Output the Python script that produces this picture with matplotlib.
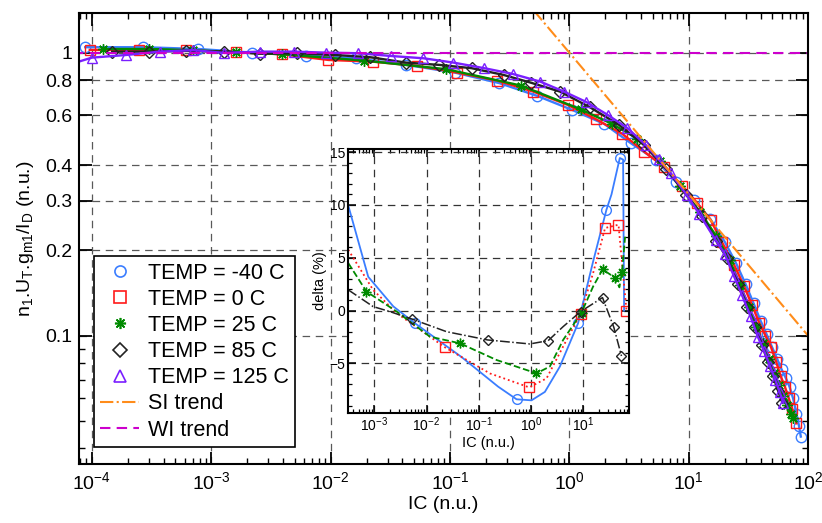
import numpy as np
import matplotlib.pyplot as plt
from matplotlib.lines import Line2D
from matplotlib.ticker import LogLocator, NullFormatter, MultipleLocator

plt.rcParams['font.family'] = ['Liberation Sans', 'DejaVu Sans']
plt.rcParams['mathtext.fontset'] = 'custom'
plt.rcParams['mathtext.rm'] = 'Liberation Sans'
plt.rcParams['mathtext.it'] = 'Liberation Sans:italic'
plt.rcParams['mathtext.default'] = 'regular'

# main plot data: normalised gm/ID vs inversion coefficient
ic_m40 = [8.8e-5, 2.7e-4, 7.8e-4, 2.2e-3, 6.2e-3, 0.0163, 0.043, 0.11, 0.26, 0.54, 1.06, 1.96, 3.27, 5.3, 7.8, 11.1, 15.2,
          20, 25, 30, 35, 40, 45, 50, 55, 60, 65, 70, 75, 80, 84, 87]
gm_m40 = [1.045, 1.045, 1.03, 1.0, 0.976, 0.955, 0.905, 0.85, 0.78, 0.703, 0.627, 0.56, 0.479, 0.418, 0.35, 0.302, 0.258,
          0.215, 0.180, 0.152, 0.130, 0.113, 0.101, 0.091, 0.083, 0.076, 0.071, 0.066, 0.060, 0.053, 0.048, 0.044]

ic_0 = [9.6e-5, 2.46e-4, 6.2e-4, 1.6e-3, 3.9e-3, 9.6e-3, 0.0225, 0.053, 0.115, 0.25, 0.50, 0.966, 1.67, 2.79, 4.23, 6.2, 8.85, 11.8, 15.3,
        19, 24, 29, 34, 39, 44, 49, 54, 59, 64, 69, 74, 80]
gm_0 = [1.022, 1.022, 1.02, 1.003, 0.987, 0.942, 0.929, 0.898, 0.85, 0.796, 0.728, 0.654, 0.582, 0.516, 0.447, 0.395, 0.338, 0.294, 0.256,
        0.214, 0.178, 0.150, 0.128, 0.111, 0.100, 0.091, 0.081, 0.072, 0.066, 0.060, 0.055, 0.049]

ic_25 = [1.24e-4, 3.0e-4, 7.1e-4, 1.6e-3, 3.9e-3, 0.0192, 0.093, 0.393, 1.25, 2.3, 3.7, 5.8, 8.5, 12.5, 17,
         22, 27, 32, 37, 42, 47, 52, 57, 62, 67, 72, 75]
gm_25 = [1.03, 1.03, 1.02, 1.003, 0.987, 0.937, 0.874, 0.765, 0.63, 0.559, 0.497, 0.415, 0.338, 0.273, 0.225,
         0.185, 0.151, 0.126, 0.107, 0.094, 0.083, 0.074, 0.067, 0.061, 0.057, 0.053, 0.051]

ic_85 = [1.48e-4, 3.0e-4, 6.2e-4, 1.28e-3, 2.57e-3, 5.2e-3, 0.0108, 0.0215, 0.0428, 0.081, 0.152, 0.281, 0.476, 0.838,
         1.5, 2.6, 4.2, 6.5, 9.5, 13, 17, 21, 26, 31, 36, 41, 46, 51, 56, 61]
gm_85 = [1.008, 1.008, 1.014, 1.008, 0.992, 0.995, 0.981, 0.963, 0.922, 0.905, 0.881, 0.834, 0.783, 0.728,
         0.64, 0.556, 0.473, 0.388, 0.315, 0.265, 0.216, 0.188, 0.152, 0.126, 0.107, 0.093, 0.081, 0.072, 0.064, 0.058]

ic_125 = [7.5e-5, 1.0e-4, 1.94e-4, 3.7e-4, 7.1e-4, 1.28e-3, 2.57e-3, 4.9e-3, 9.1e-3, 0.0171, 0.032, 0.06, 0.107, 0.194, 0.335,
          0.57, 0.904, 1.37, 2.09, 3.07, 4.37, 5.6, 7.07, 9.6, 12.2, 16.8, 20, 24, 28, 33, 38, 43, 48, 53, 58, 62]
gm_125 = [0.925, 0.96, 0.981, 1.008, 1.02, 0.998, 1.008, 1.008, 1.0, 0.995, 0.973, 0.955, 0.922, 0.881, 0.841,
          0.79, 0.728, 0.671, 0.603, 0.541, 0.472, 0.42, 0.375, 0.315, 0.27, 0.218, 0.195, 0.162, 0.139, 0.117, 0.099,
          0.088, 0.078, 0.070, 0.063, 0.058]

si_ic = [0.5, 100]
si_gm = [1.414, 0.1]
wi_ic = [7e-5, 100]
wi_gm = [1, 1]

x_ticks = [1e-4, 1e-3, 1e-2, 1e-1, 1, 10, 100]
y_ticks = [0.1, 0.2, 0.3, 0.4, 0.6, 0.8, 1]
y_ticklabels = ['0.1', '0.2', '0.3', '0.4', '0.6', '0.8', '1']

# inset data: deviation (%) vs IC
d_ic_m40 = [3.16e-4, 7.67e-4, 2.31e-3, 6.0e-3, 0.0468, 0.234, 0.528, 1.02, 1.84, 3.56, 7.94, 15.4, 27.7, 34.6, 49.9, 57.7, 60.3]
d_m40 = [10.0, 3.2, 0.4, -1.2, -4.4, -7.2, -8.4, -8.5, -7.7, -5.3, -1.2, 4.65, 9.55, 11.0, 14.45, 14.3, 0.0]
mk_m40 = [3, 6, 10, 12, 14]

d_ic_0 = [3.18e-4, 9.5e-4, 2.7e-3, 0.0225, 0.163, 0.92, 1.98, 4.11, 8.85, 15.4, 26.1, 47.1, 67]
d_0 = [5.76, 1.96, -0.25, -3.48, -5.95, -7.27, -6.42, -3.4, -0.31, 3.55, 7.82, 8.13, 0.0]
mk_0 = [3, 5, 8, 10, 11, 12]

d_ic_25 = [3.18e-4, 7.1e-4, 2.7e-3, 0.0116, 0.0436, 0.219, 1.27, 2.29, 4.11, 9.25, 15.4, 23.4, 40.6, 49, 55.1, 63]
d_25 = [4.5, 1.8, -0.1, -2.47, -3.1, -4.68, -5.94, -5.3, -2.78, -0.19, 2.28, 3.9, 3.1, 2.2, 3.7, 7.0]
mk_25 = [1, 4, 6, 9, 11, 12, 14]

d_ic_85 = [3.18e-4, 9.5e-4, 2.0e-3, 5.19e-3, 0.0242, 0.147, 0.948, 2.12, 4.11, 8.85, 23.3, 38.3, 53.7]
d_85 = [1.96, 0.38, -0.1, -0.79, -2.0, -2.78, -3.16, -2.85, -1.52, -0.1, 1.23, -1.58, -4.3]
mk_85 = [3, 5, 7, 9, 10, 11, 12]

in_x_ticks = [1e-3, 1e-2, 1e-1, 1, 10]
in_y_ticks = [-5, 0, 5, 10, 15]

c_m40 = '#3a7dff'
c_0 = '#ff1a1a'
c_25 = '#008a00'
c_85 = '#222222'
c_125 = '#7a1fff'
c_si = '#ff8c1a'
c_wi = '#cc00cc'
star = (8, 2, 0)

fig = plt.figure(figsize=(8.22, 5.23), dpi=100)
ax = fig.add_axes([0.0961, 0.1128, 0.8869, 0.8623])
ax.set_xscale('log')
ax.set_yscale('log')

ax.plot(ic_m40, gm_m40, '-', color=c_m40, marker='o', mfc='none', ms=7.5, mew=1, lw=1.7)
ax.plot(ic_0, gm_0, '-', color=c_0, marker='s', mfc='none', ms=7.5, mew=1, lw=1.7)
ax.plot(ic_25, gm_25, '-', color=c_25, marker=star, ms=7.5, mew=1, lw=1.7)
ax.plot(ic_85, gm_85, '-', color=c_85, marker='D', mfc='none', ms=6.5, mew=1, lw=1.7)
ax.plot(ic_125, gm_125, '-', color=c_125, marker='^', mfc='none', ms=7.5, mew=1, lw=1.7,
        markevery=list(range(1, len(ic_125))))
ax.plot(si_ic, si_gm, '-.', color=c_si, lw=1.5)
ax.plot(wi_ic, wi_gm, '--', color=c_wi, lw=1.5, dashes=(5, 3))

ax.set_xlim(7.8e-5, 100)
ax.set_ylim(0.0352, 1.38)
ax.set_xticks(x_ticks)
ax.xaxis.set_minor_locator(LogLocator(base=10, subs=np.arange(2, 10), numticks=20))
ax.xaxis.set_minor_formatter(NullFormatter())
ax.set_yticks(y_ticks)
ax.set_yticklabels(y_ticklabels)
ax.set_yticks([0.04, 0.05, 0.06, 0.07, 0.08, 0.09], minor=True)
ax.yaxis.set_minor_formatter(NullFormatter())
ax.tick_params(which='both', direction='in', top=True, right=True, labelsize=14)
ax.tick_params(which='major', length=9, width=1.3, pad=5)
ax.tick_params(which='minor', length=4.5, width=1)
ax.grid(True, which='major', linestyle=(0, (6, 4.5)), color='0.35', lw=0.9)
ax.set_axisbelow(True)
for s in ax.spines.values():
    s.set_linewidth(1.5)
ax.set_xlabel('IC (n.u.)', fontsize=14, labelpad=2)
ax.set_ylabel('n$_1$.U$_T$.g$_{m1}$/I$_D$ (n.u.)', fontsize=14, labelpad=6)

handles = [Line2D([], [], ls='none', color=c_m40, marker='o', mfc='none', ms=8, mew=1.2),
           Line2D([], [], ls='none', color=c_0, marker='s', mfc='none', ms=8, mew=1.2),
           Line2D([], [], ls='none', color=c_25, marker=star, ms=8, mew=1.2),
           Line2D([], [], ls='none', color=c_85, marker='D', mfc='none', ms=7, mew=1.2),
           Line2D([], [], ls='none', color=c_125, marker='^', mfc='none', ms=8, mew=1.2),
           Line2D([], [], ls='-.', color=c_si, lw=1.5),
           Line2D([], [], ls='--', color=c_wi, lw=1.5, dashes=(5, 3))]
labels = ['TEMP = -40 C', 'TEMP = 0 C', 'TEMP = 25 C', 'TEMP = 85 C', 'TEMP = 125 C', 'SI trend', 'WI trend']
leg = ax.legend(handles, labels, loc='lower left', bbox_to_anchor=(0.0206, 0.0377), borderaxespad=0,
                fontsize=15.5, labelspacing=0.24, handlelength=1.8, handletextpad=0.4, borderpad=0.3,
                fancybox=False, framealpha=1, edgecolor='black')
leg.get_frame().set_linewidth(1.2)

# inset
axin = fig.add_axes([0.4234, 0.2103, 0.3418, 0.5048])
axin.set_xscale('log')
axin.plot(d_ic_m40, d_m40, '-', color=c_m40, marker='o', mfc='none', ms=7, mew=1, lw=1.3, markevery=mk_m40)
axin.plot(d_ic_0, d_0, ':', color=c_0, marker='s', mfc='none', ms=6.5, mew=1, lw=1.3, markevery=mk_0)
axin.plot(d_ic_25, d_25, '--', color=c_25, marker=star, ms=7, mew=1, lw=1.3, markevery=mk_25)
axin.plot(d_ic_85, d_85, '-.', color=c_85, marker='D', mfc='none', ms=5.5, mew=1, lw=1.1, markevery=mk_85)
axin.set_xlim(3.15e-4, 74.8)
axin.set_ylim(-9.7, 15.3)
axin.set_xticks(in_x_ticks)
axin.xaxis.set_minor_locator(LogLocator(base=10, subs=np.arange(2, 10), numticks=20))
axin.xaxis.set_minor_formatter(NullFormatter())
axin.set_yticks(in_y_ticks)
axin.yaxis.set_minor_locator(MultipleLocator(1))
axin.tick_params(which='both', direction='in', top=True, right=True, labelsize=10)
axin.tick_params(which='major', length=6, width=1.1, pad=2)
axin.tick_params(which='minor', length=3, width=0.9)
axin.grid(True, which='major', linestyle=(0, (6, 4.5)), color='0.2', lw=0.9)
axin.set_axisbelow(True)
for s in axin.spines.values():
    s.set_linewidth(1.5)
axin.set_xlabel('IC (n.u.)', fontsize=10.5, labelpad=1)
axin.set_ylabel('delta (%)', fontsize=10.5, labelpad=2)

fig.savefig('out.png', dpi=100)
